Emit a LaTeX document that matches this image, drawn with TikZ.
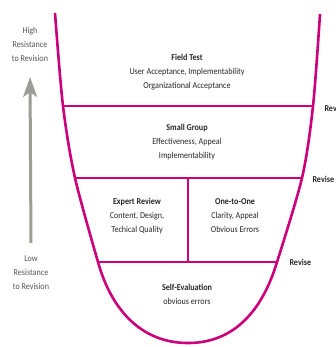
\documentclass[tikz,border=0pt]{standalone}
\usepackage{fontspec}
\setmainfont{Carlito}[FakeStretch=0.9]
\usetikzlibrary{arrows.meta}
\definecolor{funnelpink}{RGB}{204,0,122}
\definecolor{arrowgray}{RGB}{158,156,150}
\definecolor{labelgray}{RGB}{85,85,85}

\begin{document}
\begin{tikzpicture}[x=1pt,y=-1pt,
    every node/.style={font=\fontsize{9}{14}\selectfont,align=center,text=black!85},
    side/.style={text=labelgray},
    revise/.style={anchor=west,font=\fontsize{9}{14}\selectfont\bfseries},
    funnel/.style={draw=funnelpink,line width=2.6pt}]
  \useasboundingbox (0,0) rectangle (336,347);

  % outline of the funnel
  \coordinate (L0) at (55,13);   \coordinate (R0) at (320,14);
  \coordinate (L1) at (63,106);  \coordinate (R1) at (313,106);
  \coordinate (L2) at (75,178);  \coordinate (R2) at (302,178);
  \coordinate (L3) at (98,262);  \coordinate (R3) at (277,262);
  \coordinate (M2) at (188,178); \coordinate (M3) at (188,262);
  \coordinate (B) at (188,343);
  \draw[funnel,line join=round] plot[smooth,tension=0.5] coordinates {(L0) (L1) (L2) (L3)}
    .. controls (112,312) and (143,343) .. (B)
    .. controls (233,343) and (262,312) .. (R3)
    -- plot[smooth,tension=0.5] coordinates {(R3) (R2) (R1) (R0)};
  \draw[funnel] (L1) -- (R1);
  \draw[funnel] (L2) -- (R2);
  \draw[funnel] (L3) -- (R3);
  \draw[funnel] (M2) -- (M3);

  % stages
  \node (field) at (187,72) {\textbf{Field Test}\\User Acceptance, Implementability\\Organizational Acceptance};
  \node (small) at (187,142) {\textbf{Small Group}\\Effectiveness, Appeal\\Implementability};
  \node (expert) at (137,216) {\textbf{Expert Review}\\Content, Design,\\Techical Quality};
  \node (onetoone) at (235,216) {\textbf{One-to-One}\\Clarity, Appeal\\Obvious Errors};
  \node (self) at (187,294) {\textbf{Self-Evaluation}\\obvious errors};

  \node[revise] (rev1) at (321,108) {Revise};
  \node[revise] (rev2) at (309,179) {Revise};
  \node[revise] (rev3) at (286,262) {Revise};

  % resistance axis
  \node[side] (high) at (30,44) {High\\Resistance\\to Revision};
  \node[side] (low) at (31,273) {Low\\Resistance\\to Revision};
  \draw[arrowgray,line width=3pt,-{Stealth[length=20pt,width=14pt,inset=5pt]}]
    (low.north |- 0,243) -- (high.south |- 0,77);
\end{tikzpicture}
\end{document}
